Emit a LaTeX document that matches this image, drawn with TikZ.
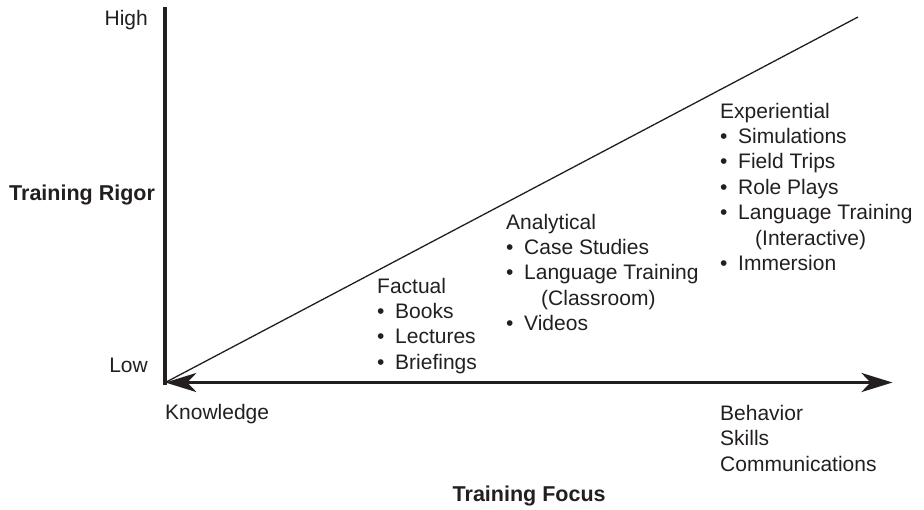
\documentclass[tikz,border=0pt]{standalone}
\usepackage{fontspec}
\setmainfont{Liberation Sans}
\usepackage{tikz}
\usetikzlibrary{arrows.meta}

\definecolor{inkgray}{HTML}{231F20}
\newcommand{\itm}{\makebox[18pt][l]{\textbullet}}

\begin{document}
\begin{tikzpicture}[x=1pt, y=-1pt,
    every node/.style={inner sep=0, text=inkgray, font=\fontsize{21}{25.4}\selectfont},
    block/.style={anchor=base west},
    heading/.style={font=\fontsize{21.5}{26}\selectfont\bfseries},
    axis/.style={draw=inkgray, line width=4pt},
    focus arrow/.style={draw=inkgray, line width=3.5pt, {Stealth[length=31pt, width=19pt, inset=9pt]}-{Stealth[length=31pt, width=19pt, inset=9pt]}}]
    \useasboundingbox (0,0) rectangle (924,509);

    \coordinate (origin) at (165.3,382.5);
    \coordinate (ytop) at (165.3,7);
    \coordinate (xend) at (892.5,382.5);
    \coordinate (diagend) at (858,17);

    % axes and rising line
    \draw[inkgray, line width=1.3pt] (origin) -- (diagend);
    \draw[axis] (ytop) -- (165.3,384.5);
    \draw[focus arrow] (origin) -- (xend);

    % axis labels
    \node[anchor=base east] (high) at (148,25) {High};
    \node[anchor=base east] (low) at (148,372) {Low};
    \node[heading, anchor=base west] (rigor) at (9,200) {Training Rigor};
    \node[anchor=base west] (knowledge) at (165,419) {Knowledge};
    \node[block] (behavior) at (720,420.5) {\begin{tabular}[t]{@{}l@{}}
        Behavior\\ Skills\\ Communications
    \end{tabular}};
    \node[heading, anchor=base west] (focus) at (452.5,501.5) {Training Focus};

    % training types
    \node[block] (factual) at (377,293) {\begin{tabular}[t]{@{}l@{}}
        Factual\\
        \itm Books\\
        \itm Lectures\\
        \itm Briefings
    \end{tabular}};
    \node[block] (analytical) at (506,229) {\begin{tabular}[t]{@{}l@{}}
        Analytical\\
        \itm Case Studies\\
        \itm Language Training\\
        \hspace{35pt}(Classroom)\\
        \itm Videos
    \end{tabular}};
    \node[block] (experiential) at (720,118) {\begin{tabular}[t]{@{}l@{}}
        Experiential\\
        \itm Simulations\\
        \itm Field Trips\\
        \itm Role Plays\\
        \itm Language Training\\
        \hspace{35pt}(Interactive)\\
        \itm Immersion
    \end{tabular}};
\end{tikzpicture}
\end{document}
